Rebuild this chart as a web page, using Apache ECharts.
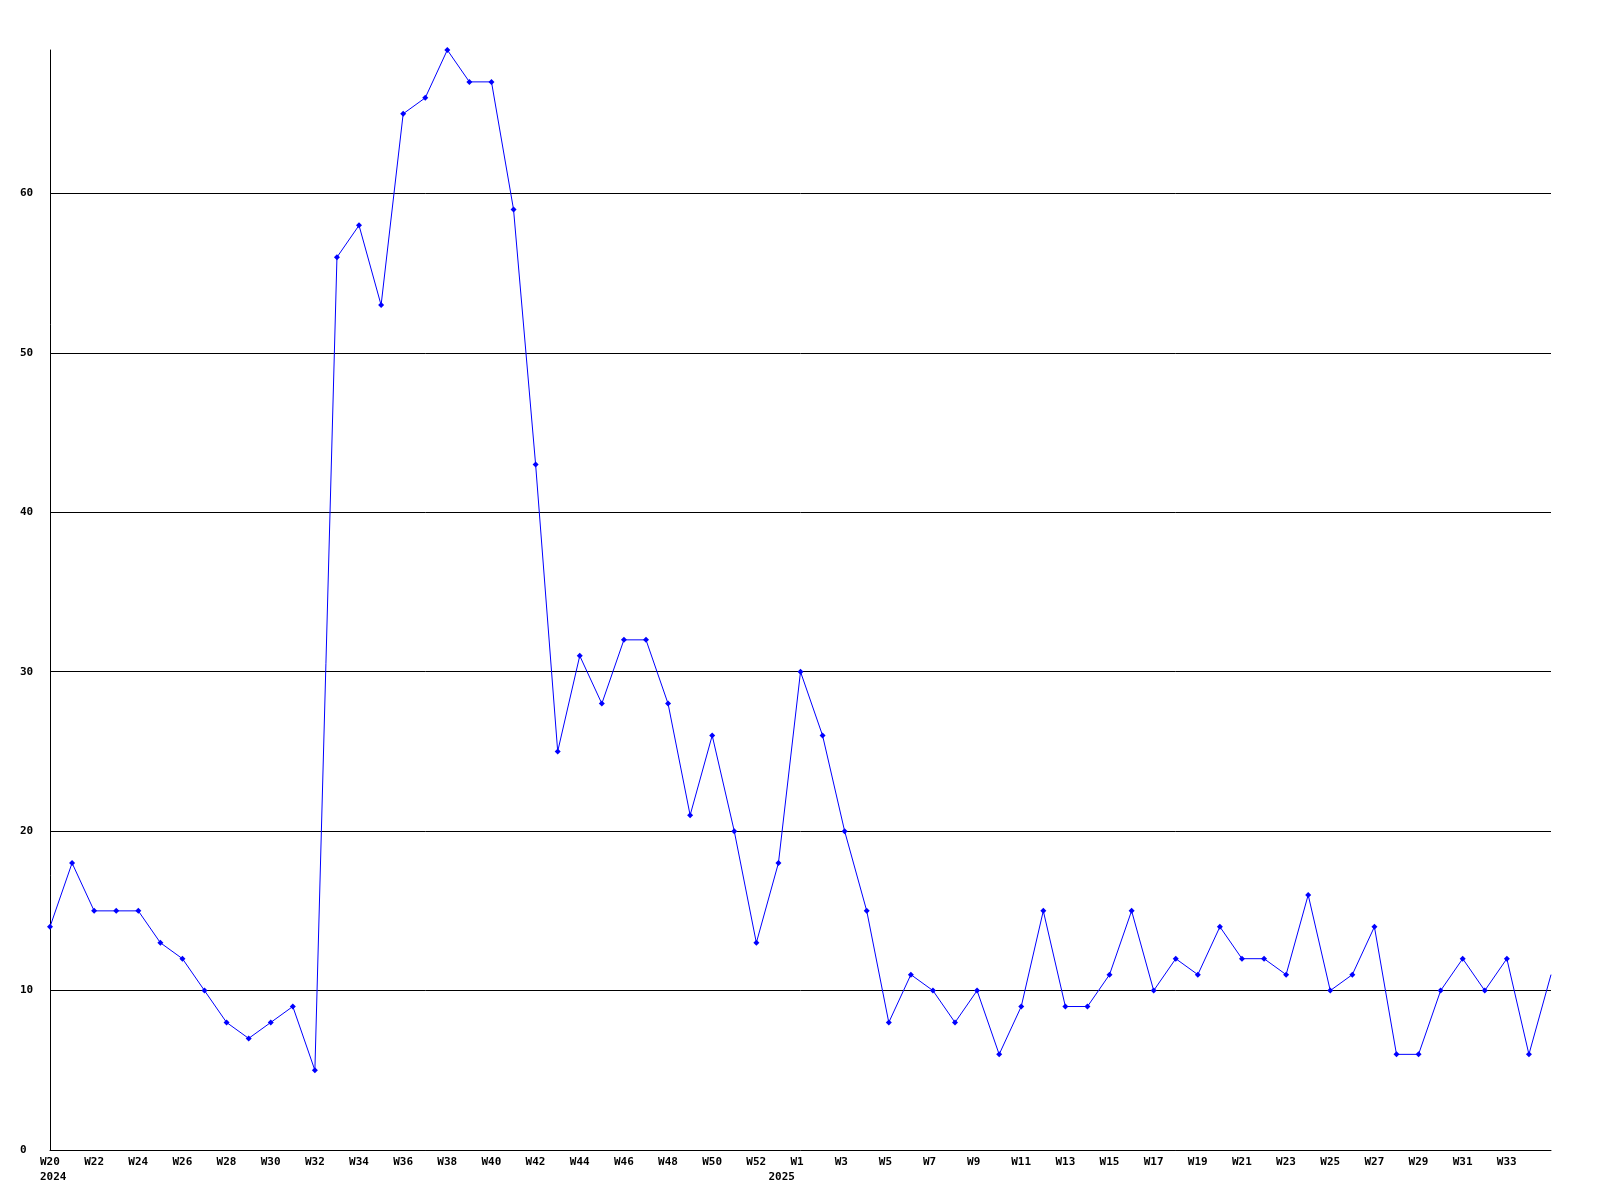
<!DOCTYPE html>
<html>
<head>
<meta charset="utf-8">
<style>
  html, body { margin: 0; padding: 0; background: #ffffff; }
  #chart { width: 1600px; height: 1200px; }
</style>
<script src="https://cdn.jsdelivr.net/npm/echarts@6/dist/echarts.min.js"></script>
</head>
<body>
<div id="chart"></div>
<script>
// Weeks (2024 W20 .. W53, 2025 W1 .. W35)
const weeks = [
  'W20','W21','W22','W23','W24','W25','W26','W27','W28','W29','W30','W31','W32','W33','W34','W35',
  'W36','W37','W38','W39','W40','W41','W42','W43','W44','W45','W46','W47','W48','W49','W50','W51',
  'W52','W53',
  'W1','W2','W3','W4','W5','W6','W7','W8','W9','W10','W11','W12','W13','W14','W15','W16','W17',
  'W18','W19','W20 ','W21 ','W22 ','W23 ','W24 ','W25 ','W26 ','W27 ','W28 ','W29 ','W30 ','W31 ',
  'W32 ','W33 ','W34 ','W35 '
];

// Series values
const counts = [
  14, 18, 15, 15, 15, 13, 12, 10, 8, 7, 8, 9, 5, 56, 58, 53,
  65, 66, 69, 67, 67, 59, 43, 25, 31, 28, 32, 32, 28, 21, 26, 20,
  13, 18,
  30, 26, 20, 15, 8, 11, 10, 8, 10, 6, 9, 15, 9, 9, 11, 15, 10,
  12, 11, 14, 12, 12, 11, 16, 10, 11, 14, 6, 6, 10, 12,
  10, 12, 6, 11
];

// Tick labels shown on the x axis (by category index)
const tickLabelIndex = [0,2,4,6,8,10,12,14,16,18,20,22,24,26,28,30,32,
  34,36,38,40,42,44,46,48,50,52,54,56,58,60,62,64,66];
const yearLabels = { 0: '2024', 33: '2025' };

const yTicks = { min: 0, max: 69, interval: 10 };

const chart = echarts.init(document.getElementById('chart'), null, { renderer: 'canvas' });

const labelFont = {
  fontFamily: 'DejaVu Sans Mono',
  fontWeight: 'bold',
  fontSize: 11,
  color: '#000000'
};

const option = {
  backgroundColor: '#ffffff',
  animation: false,
  grid: { left: 50, right: 49, top: 50, bottom: 50, containLabel: false },
  xAxis: {
    type: 'category',
    data: weeks,
    boundaryGap: false,
    axisLine: { show: true, lineStyle: { color: '#000000', width: 1 } },
    axisTick: { show: false },
    splitLine: { show: false },
    axisLabel: {
      interval: 0,
      margin: 5,
      lineHeight: 15,
      showMaxLabel: true,
      formatter: function (value, index) {
        const hasWeek = tickLabelIndex.indexOf(index) >= 0;
        const year = yearLabels[index];
        if (!hasWeek && !year) return '';
        const w = hasWeek ? value.trim() : ' ';
        let s = '{a|' + w + '}';
        if (year) s += '\n{a|' + year + '}';
        return s;
      },
      rich: {
        a: Object.assign({ width: 20, align: 'left', lineHeight: 15 }, labelFont)
      }
    }
  },
  yAxis: {
    type: 'value',
    min: yTicks.min,
    max: yTicks.max,
    interval: yTicks.interval,
    axisLine: { show: true, lineStyle: { color: '#000000', width: 1 } },
    axisTick: { show: false },
    splitLine: {
      show: true,
      showMinLine: false,
      showMaxLine: false,
      lineStyle: { color: '#000000', width: 1 }
    },
    axisLabel: Object.assign({
      showMaxLabel: false,
      align: 'left',
      margin: 30,
      formatter: function (v) { return (v % 10 === 0) ? String(v) : ''; }
    }, labelFont)
  },
  series: [{
    type: 'line',
    data: counts.map(function (v, i) {
      return i === counts.length - 1 ? { value: v, symbol: 'none' } : v;
    }),
    symbol: 'diamond',
    symbolSize: 6,
    showSymbol: true,
    lineStyle: { color: '#0000ff', width: 1 },
    itemStyle: { color: '#0000ff' },
    clip: false
  }]
};

chart.setOption(option);
</script>
</body>
</html>
